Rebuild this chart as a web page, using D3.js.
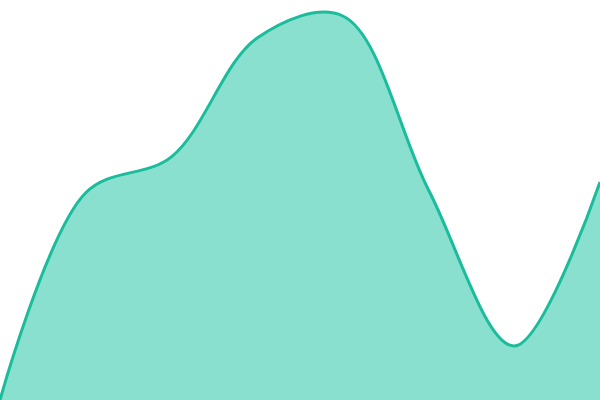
<!DOCTYPE html>
<html><head><meta charset="utf-8">
<script src="https://cdn.jsdelivr.net/npm/d3@7"></script>
<style>html,body{margin:0;padding:0;background:#fff;}svg{display:block;}</style>
</head><body>
<svg id="chart" width="600" height="400"></svg>
<script>
const categories = [0, 1, 2, 3, 4, 5, 6, 7];
const values = [0, 51.8, 60.8, 90.5, 96, 52.5, 13.5, 54.5];

const width = 600, height = 400;
const svg = d3.select("#chart");
const x = d3.scaleLinear().domain([0, categories.length - 1]).range([0, width]);
const y = d3.scaleLinear().domain([0, 100]).range([height, 0]);
const data = categories.map((c, i) => ({c, v: values[i]}));

const area = d3.area().x(d => x(d.c)).y0(height).y1(d => y(d.v)).curve(d3.curveCatmullRom);
const line = d3.line().x(d => x(d.c)).y(d => y(d.v)).curve(d3.curveCatmullRom);

svg.append("path").datum(data).attr("d", area).attr("fill", "#8ae0cf");
svg.append("path").datum(data).attr("d", line).attr("fill", "none").attr("stroke", "#1abc9c").attr("stroke-width", 3);
</script>
</body></html>
